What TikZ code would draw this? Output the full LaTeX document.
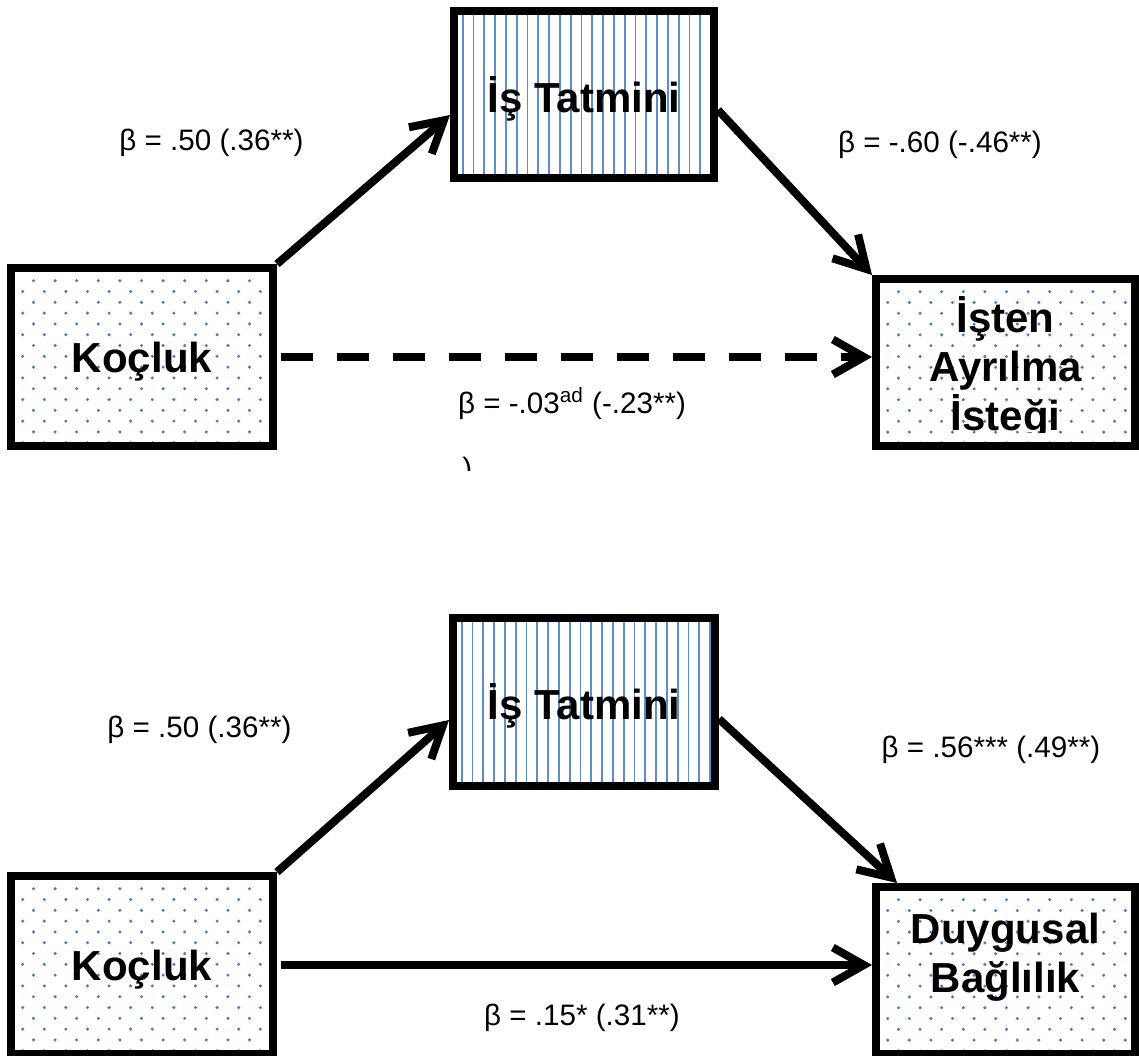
\documentclass[tikz,border=0pt]{standalone}
\usepackage{fontspec}
\setmainfont{Liberation Sans}
\usetikzlibrary{arrows.meta}
\definecolor{patblue}{HTML}{4A7EC4}
\definecolor{lineblue}{HTML}{5F8DCA}
\tikzset{
  box/.style={draw=black, line width=4pt, inner sep=0pt, fill=white, text depth=0pt,
    font=\bfseries\fontsize{21}{24.5}\selectfont},
  dotted/.style={path picture={
    \foreach \j in {0,...,17}{
      \pgfmathsetmacro{\rp}{mod(\j+1,2)*5.4}
      \pgfmathsetmacro{\yy}{-(\j*5.4+6.35)}
      \foreach \i in {0,...,12}{
        \pgfmathsetmacro{\xx}{\i*10.8+\rp+5.85}
        \fill[patblue] ([xshift=\xx pt, yshift=\yy pt]path picture bounding box.north west) circle (0.85pt);
      }}}},
  striped/.style={path picture={
    \foreach \i in {0,...,24}{
      \pgfmathsetmacro{\xx}{\i*5.4+4.35}
      \draw[lineblue, line width=0.95pt] ([xshift=\xx pt]path picture bounding box.north west) -- ([xshift=\xx pt]path picture bounding box.south west);
    }}},
  boxtext/.style={inner sep=0pt, align=center, font=\bfseries\fontsize{21}{24.5}\selectfont},
  lbl/.style={inner sep=0pt, anchor=base, font=\fontsize{14.8}{17}\selectfont},
  conn/.style={line width=4pt, -{Straight Barb[length=15.5pt,width=17.5pt]}},
  dashconn/.style={conn, dash pattern=on 15.75pt off 12.25pt},
}
\begin{document}
\begin{tikzpicture}[x=0.5pt, y=-0.5pt]
\useasboundingbox (0,0) rectangle (1139,1055);
\clip (0,0) rectangle (1139,1055);

% ---------- top diagram ----------
\node[box, dotted, minimum width=131pt, minimum height=89pt] (koc1) at (142,357) {Koçluk};
\node[box, striped, minimum width=130pt, minimum height=83.5pt] (is1) at (584,94.5) {İş Tatmini};
\node[box, dotted, minimum width=129.5pt, minimum height=83.5pt] (ist) at (1005.5,362.5) {};
\begin{scope}
  \clip (870,270) rectangle (1139,432);
  \node[boxtext, anchor=base] (isttext) at (1005.5,430) {İşten\\Ayrılma\\İsteği};
\end{scope}

\draw[conn] (koc1.north east) -- ([yshift=-10.25pt]is1.west);
\draw[conn] ([yshift=-7.75pt]is1.east) -- (ist.north west);
\draw[dashconn] ([xshift=2pt]koc1.east) -- (koc1.east -| ist.west);

\node[lbl] (l1) at (211.5,150) {β = .50 (.36**)};
\node[lbl] (l2) at (940,152) {β = -.60 (-.46**)};
\node[lbl] (l3) at (572,413) {β = -.03\textsuperscript{ad} (-.23**)};
\begin{scope}
  \clip (450,450) rectangle (490,470.5);
  \node[lbl, anchor=base west] (stray) at (462,478) {)};
\end{scope}

% ---------- bottom diagram ----------
\node[box, dotted, minimum width=131pt, minimum height=89pt] (koc2) at (142,965) {Koçluk};
\node[box, striped, minimum width=131pt, minimum height=84pt] (is2) at (584,702) {İş Tatmini};
\node[box, dotted, minimum width=129.5pt, minimum height=83.5pt] (dug) at (1005.5,970.5) {};
\node[boxtext, anchor=base] (dugtext) at (1005.5,992) {\fontsize{21}{27}\selectfont Duygusal\\Bağlılık};

\draw[conn] (koc2.north east) -- ([yshift=-9pt]is2.west);
\draw[conn] ([yshift=-8.5pt]is2.east) -- ([xshift=12.5pt]dug.north west);
\draw[conn] ([xshift=2pt]koc2.east) -- (koc2.east -| dug.west);

\node[lbl] (l4) at (199.5,737) {β = .50 (.36**)};
\node[lbl] (l5) at (991,757) {β = .56*** (.49**)};
\node[lbl] (l6) at (582,1025) {β = .15* (.31**)};
\end{tikzpicture}
\end{document}
